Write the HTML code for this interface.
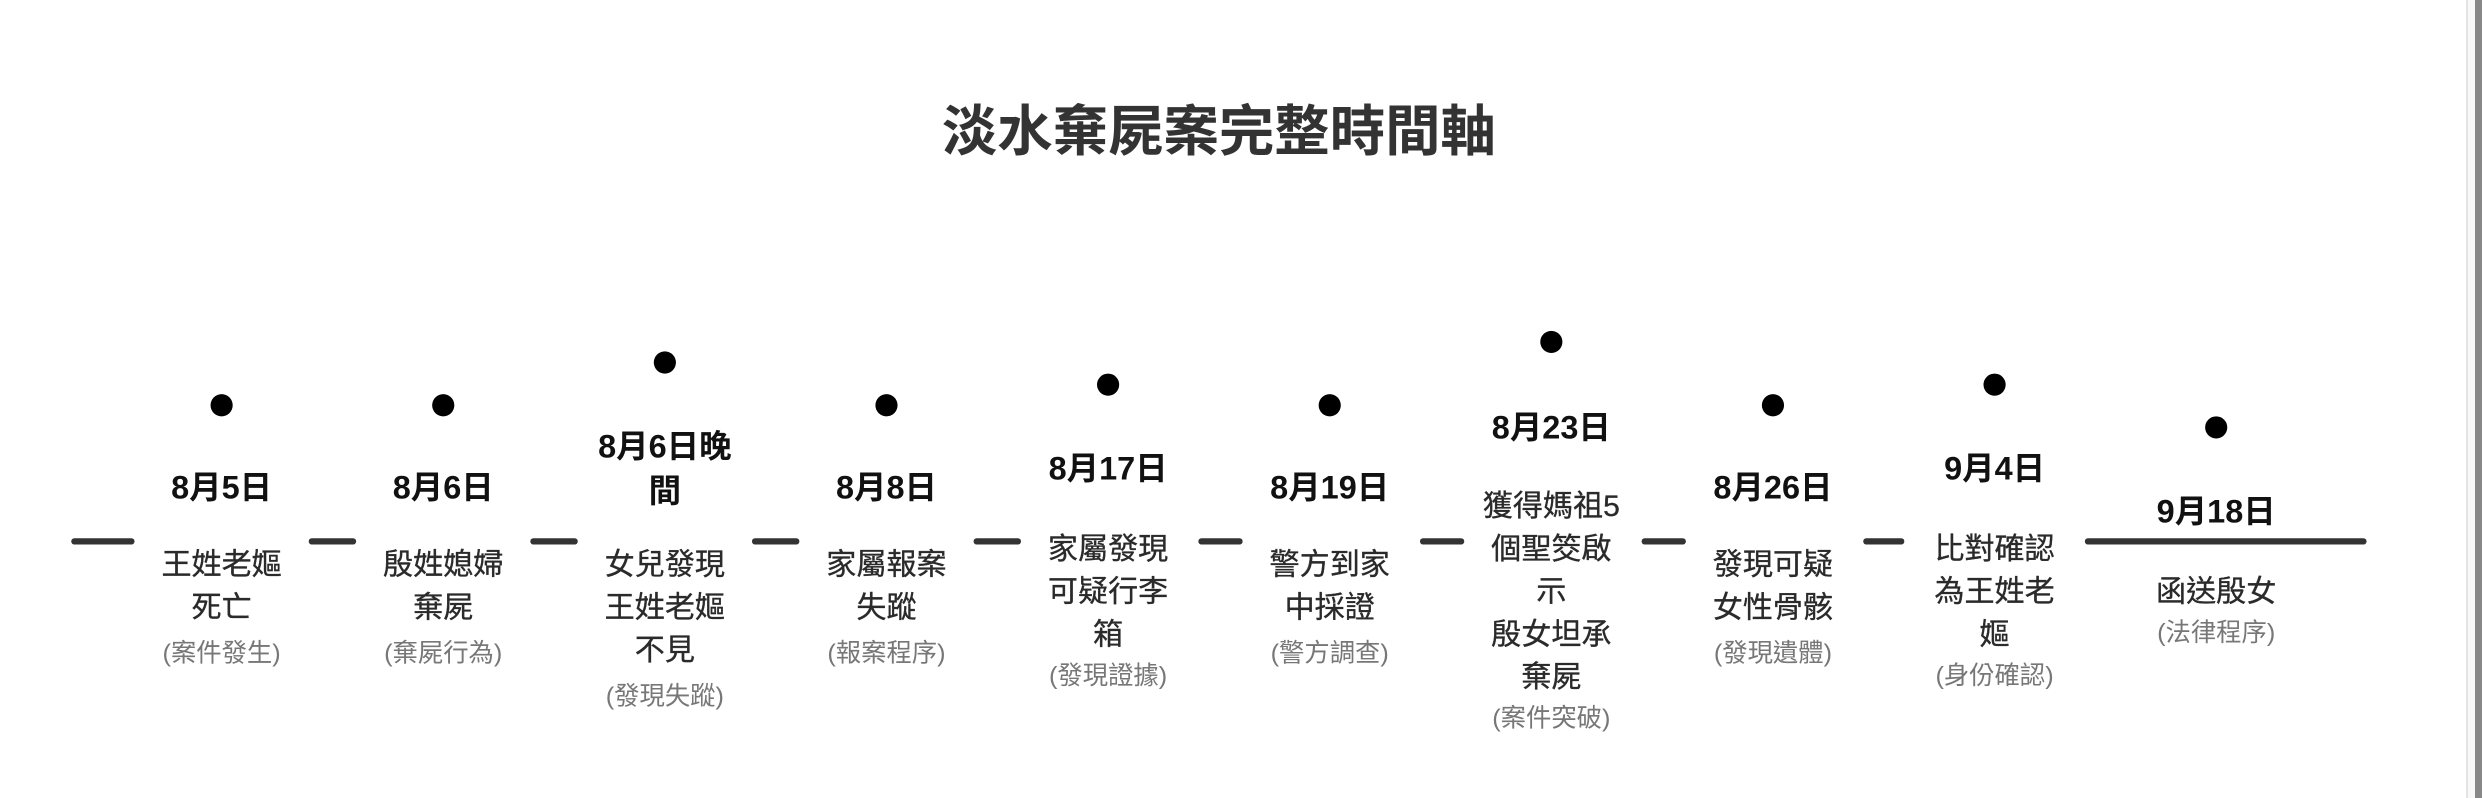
<!DOCTYPE html>
<html><head><meta charset="utf-8"><style>
html,body{margin:0;padding:0;background:#fff;}
body{width:2482px;height:798px;overflow:hidden;position:relative;font-family:"Liberation Sans","Noto Sans CJK TC",sans-serif;}
#w{position:absolute;left:0;top:0;width:1568px;height:504px;transform:scale(1.583);transform-origin:0 0;}
.t{position:absolute;left:0;width:1568px;top:61px;text-align:center;font-size:35px;font-weight:bold;color:#333;line-height:46px;transform:translateX(-14px);}
.seg{position:absolute;height:4px;background:#333;border-radius:2px;top:340px;}
.dot{position:absolute;width:14px;height:14px;border-radius:50%;background:#000;}
.tx{position:absolute;width:140px;text-align:center;}
.d{font-size:20.5px;font-weight:bold;color:#111;line-height:28px;}
.ds{font-size:19px;color:#2a2a2a;line-height:27px;-webkit-text-stroke:0.2px #2a2a2a;}
.s{font-size:16px;color:#777;line-height:27px;}
</style></head><body>
<div id="w">
<div class="t">淡水棄屍案完整時間軸</div>
<div class="seg" style="left:45px;width:40px"></div>
<div class="seg" style="left:195px;width:30px"></div>
<div class="seg" style="left:335px;width:30px"></div>
<div class="seg" style="left:475px;width:30px"></div>
<div class="seg" style="left:615px;width:30px"></div>
<div class="seg" style="left:757px;width:28px"></div>
<div class="seg" style="left:897px;width:28px"></div>
<div class="seg" style="left:1037px;width:28px"></div>
<div class="seg" style="left:1177px;width:26px"></div>
<div class="seg" style="left:1317px;width:178px"></div>

<div class="dot" style="left:133px;top:249px"></div>
<div class="tx d" style="left:70px;top:295px">8月5日</div>
<div class="tx ds" style="left:70px;top:344px">王姓老嫗<br>死亡</div>
<div class="tx s" style="left:70px;top:400px">(案件發生)</div>

<div class="dot" style="left:273px;top:249px"></div>
<div class="tx d" style="left:210px;top:295px">8月6日</div>
<div class="tx ds" style="left:210px;top:344px">殷姓媳婦<br>棄屍</div>
<div class="tx s" style="left:210px;top:400px">(棄屍行為)</div>

<div class="dot" style="left:413px;top:222px"></div>
<div class="tx d" style="left:350px;top:269px">8月6日晚<br>間</div>
<div class="tx ds" style="left:350px;top:344px">女兒發現<br>王姓老嫗<br>不見</div>
<div class="tx s" style="left:350px;top:427px">(發現失蹤)</div>

<div class="dot" style="left:553px;top:249px"></div>
<div class="tx d" style="left:490px;top:295px">8月8日</div>
<div class="tx ds" style="left:490px;top:344px">家屬報案<br>失蹤</div>
<div class="tx s" style="left:490px;top:400px">(報案程序)</div>

<div class="dot" style="left:693px;top:236px"></div>
<div class="tx d" style="left:630px;top:283px">8月17日</div>
<div class="tx ds" style="left:630px;top:334px">家屬發現<br>可疑行李<br>箱</div>
<div class="tx s" style="left:630px;top:414px">(發現證據)</div>

<div class="dot" style="left:833px;top:249px"></div>
<div class="tx d" style="left:770px;top:295px">8月19日</div>
<div class="tx ds" style="left:770px;top:344px">警方到家<br>中採證</div>
<div class="tx s" style="left:770px;top:400px">(警方調查)</div>

<div class="dot" style="left:973px;top:209px"></div>
<div class="tx d" style="left:910px;top:257px">8月23日</div>
<div class="tx ds" style="left:910px;top:307px">獲得媽祖5<br>個聖筊啟<br>示<br>殷女坦承<br>棄屍</div>
<div class="tx s" style="left:910px;top:441px">(案件突破)</div>

<div class="dot" style="left:1113px;top:249px"></div>
<div class="tx d" style="left:1050px;top:295px">8月26日</div>
<div class="tx ds" style="left:1050px;top:344px">發現可疑<br>女性骨骸</div>
<div class="tx s" style="left:1050px;top:400px">(發現遺體)</div>

<div class="dot" style="left:1253px;top:236px"></div>
<div class="tx d" style="left:1190px;top:283px">9月4日</div>
<div class="tx ds" style="left:1190px;top:334px">比對確認<br>為王姓老<br>嫗</div>
<div class="tx s" style="left:1190px;top:414px">(身份確認)</div>

<div class="dot" style="left:1393px;top:263px"></div>
<div class="tx d" style="left:1330px;top:310px">9月18日</div>
<div class="tx ds" style="left:1330px;top:361px">函送殷女</div>
<div class="tx s" style="left:1330px;top:387px">(法律程序)</div>
</div>
<div style="position:absolute;left:2466px;top:0;width:2px;height:798px;background:#e4e4e4"></div>
<div style="position:absolute;left:2468px;top:0;width:7px;height:798px;background:#f8f8f8"></div>
<div style="position:absolute;left:2475px;top:0;width:7px;height:798px;background:#888"></div>
</body></html>
